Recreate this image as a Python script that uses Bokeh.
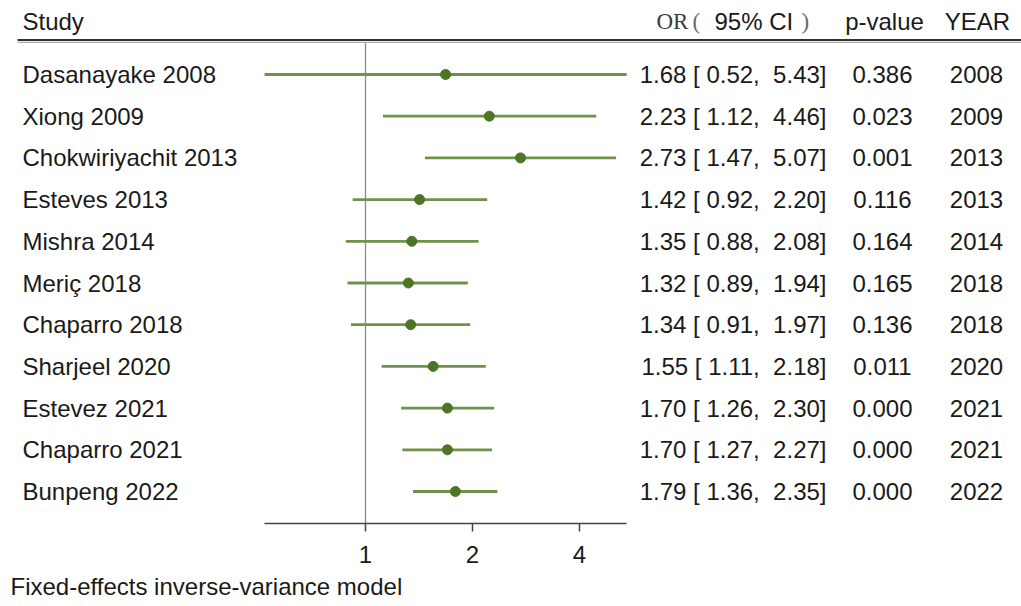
from bokeh.plotting import figure
from bokeh.models import Range1d, FixedTicker, ColumnDataSource, Title, LinearScale
from bokeh.embed import file_html
from bokeh.resources import INLINE
from bokeh.core.properties import value

studies = ["Dasanayake 2008", "Xiong 2009", "Chokwiriyachit 2013", "Esteves 2013",
           "Mishra 2014", "Meriç 2018", "Chaparro 2018", "Sharjeel 2020",
           "Estevez 2021", "Chaparro 2021", "Bunpeng 2022"]
odds = [1.68, 2.23, 2.73, 1.42, 1.35, 1.32, 1.34, 1.55, 1.70, 1.70, 1.79]
lower = [0.52, 1.12, 1.47, 0.92, 0.88, 0.89, 0.91, 1.11, 1.26, 1.27, 1.36]
upper = [5.43, 4.46, 5.07, 2.20, 2.08, 1.94, 1.97, 2.18, 2.30, 2.27, 2.35]
pvals = ["0.386", "0.023", "0.001", "0.116", "0.164", "0.165", "0.136", "0.011", "0.000", "0.000", "0.000"]
years = ["2008", "2009", "2013", "2013", "2014", "2018", "2018", "2020", "2021", "2021", "2022"]
x_ticks = [1, 2, 4]

W, H = 1021, 606
FRAME_H = 523
FONT = "Liberation Sans"
SERIF = "Liberation Serif"
FS = "24px"
TXT = "#1a1a1a"
NB = "\u00a0"

rows = list(range(len(studies)))
ci_text = [f"{o:.2f} [{NB}{l:.2f},{NB}{NB}{u:.2f}]" for o, l, u in zip(odds, lower, upper)]

src = ColumnDataSource(dict(study=studies, odds=odds, lo=lower, hi=upper,
                            p=pvals, year=years, ci=ci_text, row=rows))

# log2 scale: 107 px per doubling, OR=1 at x=365 px
px_per = 107.0
x0 = 365.0
xr = Range1d(2 ** (-x0 / px_per), 2 ** ((W - x0) / px_per))
row_h = 41.7
top_row_px = 74.0
yr = Range1d(start=(FRAME_H - top_row_px) / row_h, end=-top_row_px / row_h)


def ypx(px):
    return (px - top_row_px) / row_h


p = figure(width=W, height=H, x_axis_type="log", x_range=xr, y_range=yr,
           output_backend="svg", toolbar_location=None, y_axis_location=None,
           min_border_left=0, min_border_right=0, min_border_top=0, min_border_bottom=H - FRAME_H)
p.outline_line_color = None
p.grid.visible = False
p.background_fill_color = "white"
p.border_fill_color = "white"
p.extra_x_ranges = {"px": Range1d(0, W)}
p.extra_x_scales = {"px": LinearScale()}

# header rule (double line)
p.segment(x0=[17], x1=[W], y0=[ypx(39.5)], y1=[ypx(39.5)], x_range_name="px", line_color="#333333", line_width=2)
p.segment(x0=[17], x1=[W], y0=[ypx(41.8)], y1=[ypx(41.8)], x_range_name="px", line_color="#9a9a9a", line_width=1)

hdr_y = ypx(20.5)
p.text(x=[22], y=[hdr_y], text=["Study"], x_range_name="px", text_font=value(FONT),
       text_font_size=FS, text_baseline="middle", text_align="left", text_color=TXT)
p.text(x=[656], y=[hdr_y], text=["OR"], x_range_name="px", text_font=value(SERIF),
       text_font_size="23px", text_baseline="middle", text_align="left", text_color="#3c3c3c")
p.text(x=[692], y=[hdr_y], text=["("], x_range_name="px", text_font=value(SERIF),
       text_font_size="23px", text_baseline="middle", text_align="left", text_color="#6a6a6a")
p.text(x=[714], y=[hdr_y], text=["95% CI"], x_range_name="px", text_font=value(FONT),
       text_font_size=FS, text_baseline="middle", text_align="left", text_color=TXT)
p.text(x=[801], y=[hdr_y], text=[")"], x_range_name="px", text_font=value(SERIF),
       text_font_size="23px", text_baseline="middle", text_align="left", text_color="#6a6a6a")
p.text(x=[884], y=[hdr_y], text=["p-value"], x_range_name="px", text_font=value(FONT),
       text_font_size=FS, text_baseline="middle", text_align="center", text_color=TXT)
p.text(x=[977], y=[hdr_y], text=["YEAR"], x_range_name="px", text_font=value(FONT),
       text_font_size=FS, text_baseline="middle", text_align="center", text_color=TXT)

# reference line at OR = 1
p.segment(x0=[1], x1=[1], y0=[ypx(42.5)], y1=[ypx(FRAME_H)],
          line_color="#8a8a8a", line_width=1.3)

# CIs and points
p.segment(x0="lo", x1="hi", y0="row", y1="row", source=src, line_color="#71914a", line_width=2.8)
p.scatter(x="odds", y="row", source=src, size=10, fill_color="#4d7526", line_color="#4d7526")

# text columns
p.text(x=22, y="row", text="study", source=src, x_range_name="px", text_font=value(FONT),
       text_font_size=FS, text_baseline="middle", text_align="left", text_color=TXT)
p.text(x=826, y="row", text="ci", source=src, x_range_name="px", text_font=value(FONT),
       text_font_size=FS, text_baseline="middle", text_align="right", text_color=TXT)
p.text(x=882, y="row", text="p", source=src, x_range_name="px", text_font=value(FONT),
       text_font_size=FS, text_baseline="middle", text_align="center", text_color=TXT)
p.text(x=976, y="row", text="year", source=src, x_range_name="px", text_font=value(FONT),
       text_font_size=FS, text_baseline="middle", text_align="center", text_color=TXT)

ax = p.xaxis[0]
ax.ticker = FixedTicker(ticks=x_ticks)
ax.bounds = (min(lower), max(upper))
ax.major_label_overrides = {t: str(t) for t in x_ticks}
ax.minor_tick_line_color = None
ax.major_tick_in = 0
ax.major_tick_out = 8
ax.axis_line_color = "#444444"
ax.axis_line_width = 1.5
ax.major_tick_line_color = "#444444"
ax.major_tick_line_width = 1.5
ax.major_label_standoff = 14
ax.major_label_text_font = FONT
ax.major_label_text_font_size = FS
ax.major_label_text_color = TXT

foot = Title(text="Fixed-effects inverse-variance model", align="left", offset=10,
             text_font=FONT, text_font_size=FS, text_font_style="normal", text_color=TXT,
             standoff=10)
p.add_layout(foot, "below")

open("out.html", "w").write(file_html(p, INLINE))
